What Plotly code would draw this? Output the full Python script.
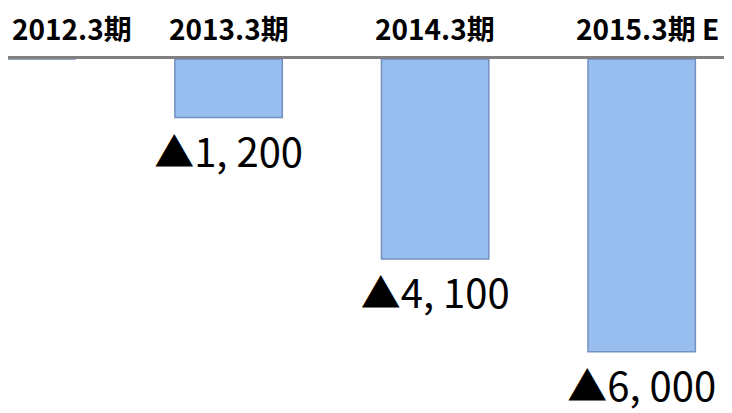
import plotly.graph_objects as go

categories = ["2012.3期", "2013.3期", "2014.3期", "2015.3期 E"]
values = [0, -1200, -4100, -6000]
value_labels = ["", "▲1, 200", "▲4, 100", "▲6, 000"]

fig = go.Figure(
    go.Bar(
        x=categories,
        y=values,
        width=0.52,
        marker=dict(color="#98BEF0", line=dict(color="#7390C0", width=1.5)),
        text=value_labels,
        textposition="outside",
        constraintext="none",
        cliponaxis=False,
        textfont=dict(family="Noto Sans CJK JP", size=40, color="#000000"),
        hoverinfo="skip",
    )
)

annotations = []
for i, cat in enumerate(categories):
    annotations.append(
        dict(
            x=cat,
            xref="x",
            y=1,
            yref="paper",
            yanchor="bottom",
            xanchor="left" if i == 0 else "center",
            xshift=-12 if i == 0 else (6 if i == len(categories) - 1 else 0),
            yshift=9,
            text=cat,
            showarrow=False,
            font=dict(family="Noto Sans CJK JP", size=28, color="#000000", weight="bold"),
        )
    )

fig.update_layout(
    width=732,
    height=413,
    margin=dict(l=0, r=0, t=51, b=0, autoexpand=False),
    paper_bgcolor="white",
    plot_bgcolor="white",
    showlegend=False,
    annotations=annotations,
    xaxis=dict(
        type="category",
        side="top",
        range=[-0.068, 3.476],
        showticklabels=False,
        showline=True,
        linecolor="#808080",
        linewidth=3,
        showgrid=False,
        ticks="",
        automargin=False,
    ),
    yaxis=dict(
        range=[-7420, 0],
        visible=False,
        showgrid=False,
        zeroline=False,
        automargin=False,
    ),
)

fig.write_html("out.html")
